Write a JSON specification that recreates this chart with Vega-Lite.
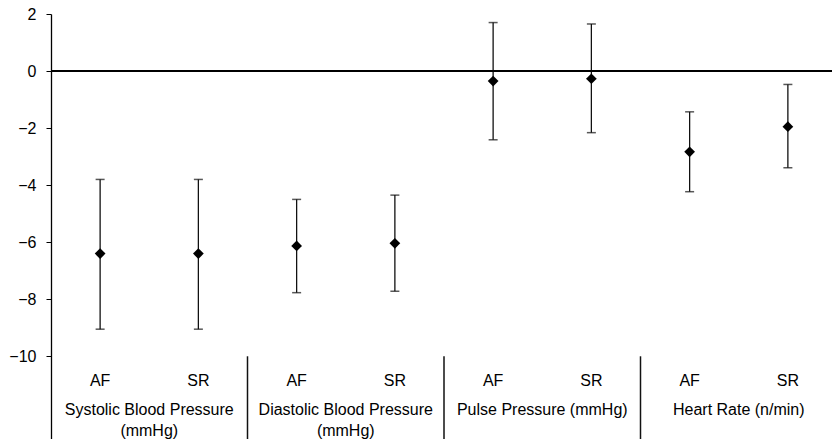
{
  "$schema": "https://vega.github.io/schema/vega-lite/v6.json",
  "width": 781,
  "height": 425,
  "autosize": {"type": "none"},
  "padding": {"left": 51, "top": 14, "right": 0, "bottom": 0},
  "config": {"view": {"stroke": null}, "font": "Liberation Sans"},
  "datasets": {
    "pts": [
      {"key": "SBP AF", "label": "AF", "mean": -6.4, "lo": -9.05, "hi": -3.8},
      {"key": "SBP SR", "label": "SR", "mean": -6.4, "lo": -9.05, "hi": -3.8},
      {"key": "DBP AF", "label": "AF", "mean": -6.13, "lo": -7.77, "hi": -4.5},
      {"key": "DBP SR", "label": "SR", "mean": -6.04, "lo": -7.72, "hi": -4.35},
      {"key": "PP AF", "label": "AF", "mean": -0.35, "lo": -2.41, "hi": 1.7},
      {"key": "PP SR", "label": "SR", "mean": -0.27, "lo": -2.16, "hi": 1.65},
      {"key": "HR AF", "label": "AF", "mean": -2.83, "lo": -4.23, "hi": -1.43},
      {"key": "HR SR", "label": "SR", "mean": -1.95, "lo": -3.39, "hi": -0.47}
    ],
    "groups": [
      {"center": "SBP SR", "name": "Systolic Blood Pressure\n(mmHg)"},
      {"center": "DBP SR", "name": "Diastolic Blood Pressure\n(mmHg)"},
      {"center": "PP SR", "name": "Pulse Pressure (mmHg)"},
      {"center": "HR SR", "name": "Heart Rate (n/min)"}
    ],
    "seps": [
      {"key": "DBP AF"},
      {"key": "PP AF"},
      {"key": "HR AF"}
    ]
  },
  "layer": [
    {
      "data": {"name": "pts"},
      "mark": {"type": "rule", "color": "#111111", "strokeWidth": 1.3},
      "encoding": {
        "x": {"field": "key", "type": "nominal",
              "scale": {"domain": ["SBP AF", "SBP SR", "DBP AF", "DBP SR", "PP AF", "PP SR", "HR AF", "HR SR"], "range": [0, 786], "paddingInner": 0, "paddingOuter": 0},
              "axis": null},
        "y": {"field": "lo", "type": "quantitative",
              "scale": {"domain": [-12.9, 2], "nice": false, "zero": false},
              "axis": {"title": null, "values": [-10, -8, -6, -4, -2, 0, 2], "grid": false,
                       "domainColor": "black", "domainWidth": 1.3, "tickColor": "black", "tickSize": 5,
                       "labelPadding": 10, "labelFontSize": 16, "labelColor": "black", "labelFont": "Liberation Sans"}},
        "y2": {"field": "hi"}
      }
    },
    {
      "data": {"name": "pts"},
      "mark": {"type": "tick", "color": "#111111", "size": 9, "thickness": 1.5},
      "encoding": {
        "x": {"field": "key", "type": "nominal"},
        "y": {"field": "lo", "type": "quantitative"}
      }
    },
    {
      "data": {"name": "pts"},
      "mark": {"type": "tick", "color": "#111111", "size": 9, "thickness": 1.5},
      "encoding": {
        "x": {"field": "key", "type": "nominal"},
        "y": {"field": "hi", "type": "quantitative"}
      }
    },
    {
      "data": {"name": "pts"},
      "mark": {"type": "rule", "color": "black", "strokeWidth": 1.5},
      "encoding": {
        "y": {"datum": 0, "type": "quantitative"}
      }
    },
    {
      "data": {"name": "pts"},
      "mark": {"type": "point", "shape": "diamond", "filled": true, "size": 115, "color": "black", "opacity": 1},
      "encoding": {
        "x": {"field": "key", "type": "nominal"},
        "y": {"field": "mean", "type": "quantitative"}
      }
    },
    {
      "data": {"name": "pts"},
      "mark": {"type": "text", "baseline": "top", "align": "center", "fontSize": 16, "color": "black"},
      "encoding": {
        "x": {"field": "key", "type": "nominal"},
        "y": {"datum": -10.6, "type": "quantitative"},
        "text": {"field": "label"}
      }
    },
    {
      "data": {"name": "seps"},
      "mark": {"type": "rule", "color": "#111111", "strokeWidth": 1.5},
      "encoding": {
        "x": {"field": "key", "type": "nominal", "bandPosition": 0},
        "y": {"datum": -10, "type": "quantitative"},
        "y2": {"datum": -12.9}
      }
    },
    {
      "data": {"name": "groups"},
      "mark": {"type": "text", "baseline": "top", "align": "center", "fontSize": 16, "color": "black", "lineBreak": "\n", "lineHeight": 21.5},
      "encoding": {
        "x": {"field": "center", "type": "nominal", "bandPosition": 0},
        "y": {"datum": -11.6, "type": "quantitative"},
        "text": {"field": "name"}
      }
    }
  ]
}
